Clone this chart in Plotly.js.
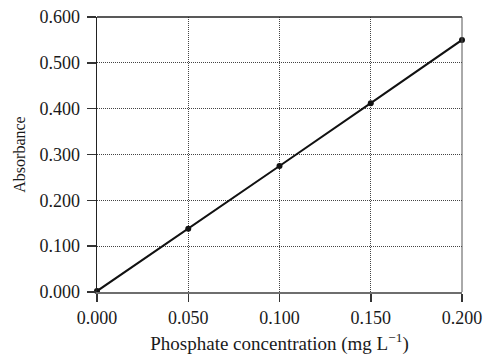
<!DOCTYPE html>
<html>
<head>
<meta charset="utf-8">
<script src="https://cdn.plot.ly/plotly-3.0.1.min.js"></script>
<style>html,body{margin:0;padding:0;background:#fff;}#chart{width:500px;height:360px;}</style>
</head>
<body>
<div id="chart"></div>
<script>
const concentration = [0.000, 0.050, 0.100, 0.150, 0.200];
const absorbance = [0.002, 0.138, 0.275, 0.412, 0.550];
const xTicks = [0, 0.05, 0.1, 0.15, 0.2];
const xTickLabels = ["0.000", "0.050", "0.100", "0.150", "0.200"];
const yTicks = [0, 0.1, 0.2, 0.3, 0.4, 0.5, 0.6];
const yTickLabels = ["0.000", "0.100", "0.200", "0.300", "0.400", "0.500", "0.600"];

const fam = 'Liberation Serif, Times New Roman, serif';
const tickFont = {family: fam, size: 18, color: '#1a1a1a'};
const titleFont = {family: fam, size: 19, color: '#1a1a1a'};
const yTitleFont = {family: fam, size: 16, color: '#1a1a1a'};

const trace = {
  x: concentration, y: absorbance, type: 'scatter', mode: 'lines+markers',
  line: {color: '#111', width: 2},
  marker: {color: '#111', size: 6},
  cliponaxis: false, hoverinfo: 'skip'
};

const layout = {
  width: 500, height: 360,
  margin: {l: 97, r: 38, t: 17, b: 68},
  paper_bgcolor: '#fff', plot_bgcolor: '#fff',
  showlegend: false,
  font: tickFont,
  xaxis: {
    range: [0, 0.2], tickvals: xTicks, ticktext: xTickLabels,
    showgrid: true, gridcolor: '#444', griddash: '1px,1px', gridwidth: 1,
    showline: true, linecolor: '#6e6e6e', linewidth: 2,
    ticks: 'outside', ticklen: 8, tickwidth: 1.5, tickcolor: '#333',
    zeroline: false, tickfont: tickFont,
    title: {text: 'Phosphate concentration (mg L<sup>−1</sup>)', font: titleFont, standoff: 10}
  },
  yaxis: {
    range: [0, 0.6], tickvals: yTicks, ticktext: yTickLabels,
    showgrid: true, gridcolor: '#444', griddash: '1px,1px', gridwidth: 1,
    showline: true, linecolor: '#222', linewidth: 1.5,
    ticks: 'outside', ticklen: 9, tickwidth: 1.5, tickcolor: '#333',
    ticklabelstandoff: 3,
    zeroline: false, tickfont: tickFont,
    title: {text: 'Absorbance', font: yTitleFont, standoff: 10}
  },
  shapes: [
    {type: 'line', xref: 'paper', yref: 'paper', x0: 0, x1: 1, y0: 1, y1: 1, line: {color: '#222', width: 1.5}},
    {type: 'line', xref: 'paper', yref: 'paper', x0: 1, x1: 1, y0: 0, y1: 1, line: {color: '#555', width: 1}}
  ]
};

Plotly.newPlot('chart', [trace], layout, {staticPlot: true, displayModeBar: false});
</script>
</body>
</html>
